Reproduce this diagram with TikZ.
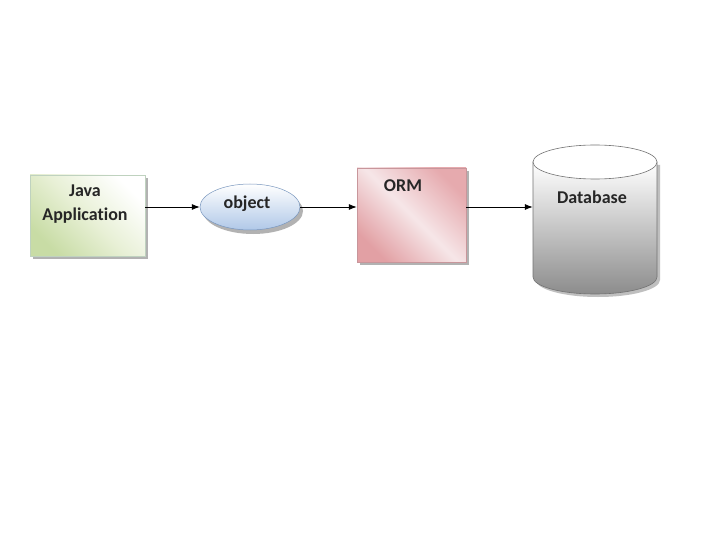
\documentclass[tikz,border=0pt]{standalone}
\usepackage{fontspec}
\setmainfont[Ligatures=NoCommon]{Carlito}
\usetikzlibrary{arrows.meta,shapes.geometric}
\begin{document}
\begin{tikzpicture}[x=1pt,y=-1pt,
  lbl/.style={font=\bfseries\fontsize{18}{24}\selectfont, text=black!85, align=center, inner sep=0pt},
  conn/.style={-{Latex[length=8pt,width=6pt]}, line width=0.8pt, black},
]
\useasboundingbox (0,0) rectangle (720,540);
\fill[white] (0,0) rectangle (720,540);
% Java application box
\fill[black!30] (33,178) rectangle (148,259);
\node[draw=green!30!black!25, line width=0.5pt, minimum width=115pt, minimum height=81pt, inner sep=0pt,
  left color={rgb,255:red,200;green,220;blue,165}, right color=white, middle color={rgb,255:red,232;green,240;blue,214}, shading angle=135]
  (java) at (87.5,215.5) {};
\node[lbl] (javat) at (85,204) {Java\\Application};
% object ellipse
\fill[black!30] (253,211) ellipse [x radius=50, y radius=23];
\node[draw={rgb,255:red,120;green,150;blue,190}, line width=0.5pt, ellipse, minimum width=100pt, minimum height=46pt, inner sep=0pt,
  top color=white, bottom color={rgb,255:red,176;green,200;blue,232}]
  (obj) at (250,207) {};
\node[lbl] at (247,204) {object};
% ORM box
\fill[black!30] (360,171) rectangle (469,265);
\node[draw={rgb,255:red,200;green,150;blue,155}, line width=0.5pt, minimum width=109pt, minimum height=94pt, inner sep=0pt,
  left color={rgb,255:red,226;green,160;blue,164}, right color={rgb,255:red,230;green,170;blue,174}, middle color={rgb,255:red,246;green,230;blue,232}, shading angle=135]
  (orm) at (411.5,215) {};
\node[lbl] at (403,186) {ORM};
% Database cylinder
\fill[black!25] (536,165) -- (536,280) arc[start angle=180, end angle=0, x radius=62, y radius=17] -- (660,165) -- cycle;
\shade[top color=white, bottom color=black!45, draw=black!55, line width=0.6pt]
  (533,162) -- (533,277) arc[start angle=180, end angle=0, x radius=62, y radius=17] -- (657,162) -- cycle;
\draw[fill=white, draw=black!55, line width=0.6pt] (595,162) ellipse [x radius=62, y radius=17];
\node[minimum width=124pt, minimum height=149pt, inner sep=0pt] (db) at (595,219.5) {};
\node[lbl] at (592,197) {Database};
% connectors
\draw[conn] (java.east |- 0,207) -- (obj.west);
\draw[conn] (obj.east) -- (orm.west |- 0,207);
\draw[conn] (orm.east |- 0,207) -- (db.west |- 0,207);
\end{tikzpicture}
\end{document}
